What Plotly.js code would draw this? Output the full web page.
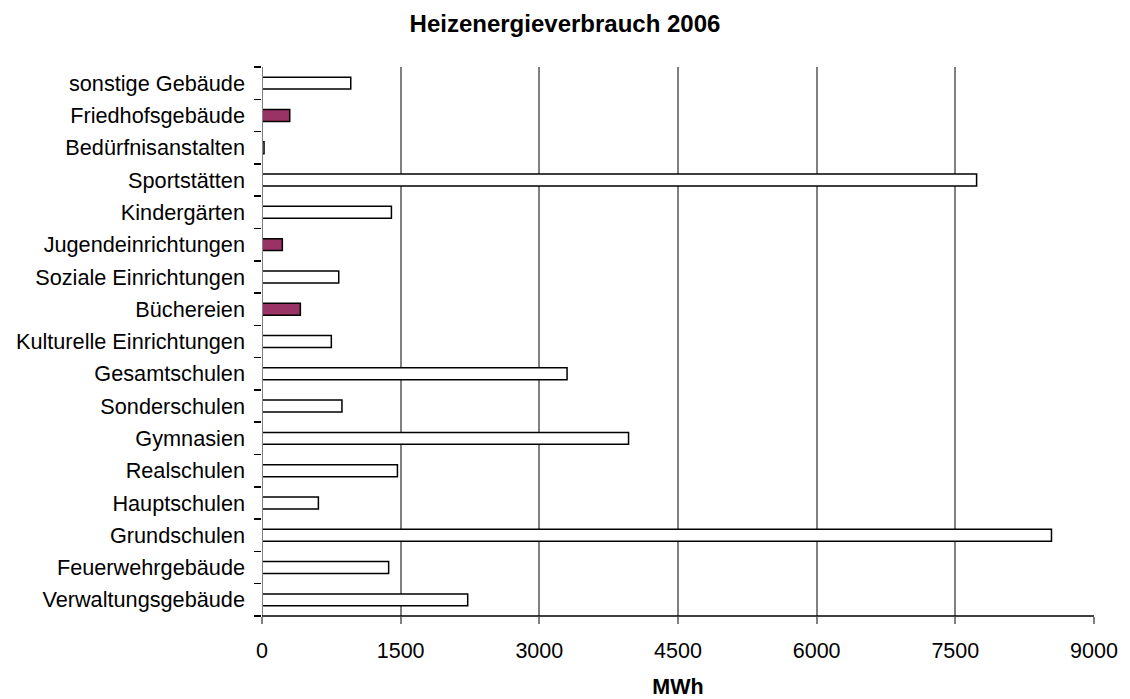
<!DOCTYPE html>
<html><head><meta charset="utf-8">
<script src="https://cdn.plot.ly/plotly-3.0.1.min.js"></script>
<style>html,body{margin:0;padding:0;background:#fff}#chart{width:1130px;height:699px}</style>
</head><body><div id="chart"></div>
<script>
const categories = ["Verwaltungsgebäude","Feuerwehrgebäude","Grundschulen","Hauptschulen","Realschulen","Gymnasien","Sonderschulen","Gesamtschulen","Kulturelle Einrichtungen","Büchereien","Soziale Einrichtungen","Jugendeinrichtungen","Kindergärten","Sportstätten","Bedürfnisanstalten","Friedhofsgebäude","sonstige Gebäude"];
const values = [2225,1370,8540,610,1465,3965,865,3300,750,415,830,220,1400,7730,22,300,960];
const highlighted = ["Büchereien","Jugendeinrichtungen","Friedhofsgebäude"];
const colors = categories.map(c => highlighted.includes(c) ? "#993366" : "#ffffff");
const xTicks = [0,1500,3000,4500,6000,7500,9000];

Plotly.newPlot("chart", [{
  type: "bar", orientation: "h", y: categories, x: values,
  marker: {color: colors, line: {color: "#000000", width: 1.5}},
  hoverinfo: "x+y"
}], {
  width: 1130, height: 699,
  margin: {l: 262, r: 36, t: 67, b: 83},
  paper_bgcolor: "#fff", plot_bgcolor: "#fff",
  font: {family: "Liberation Sans, Arial, sans-serif", size: 21.7, color: "#000"},
  title: {text: "<b>Heizenergieverbrauch 2006</b>", x: 0.5, xanchor: "center", y: 0.9664, yanchor: "middle", font: {size: 24}},
  bargap: 0.63,
  showlegend: false,
  xaxis: {
    range: [0, 9000], tickvals: xTicks, ticktext: xTicks.map(String),
    showgrid: true, gridcolor: "#808080", gridwidth: 2,
    zeroline: false, showline: false,
    ticks: "outside", ticklen: 7, tickcolor: "#808080", tickwidth: 2,
    tickfont: {size: 21.5}, ticklabelstandoff: 8, fixedrange: true,
    automargin: false,
    title: {text: "<b>MWh</b>", font: {size: 21.5}, standoff: 24}
  },
  yaxis: {
    type: "category", showgrid: false, zeroline: false,
    showline: false, automargin: false,
    ticks: "outside", tickson: "boundaries", ticklen: 7, tickcolor: "#000", tickwidth: 1.5,
    tickfont: {size: 21.7}, ticklabelstandoff: 16, fixedrange: true
  },
  shapes: [
    {type: "line", xref: "x", yref: "paper", x0: 0, x1: 0, y0: 0, y1: 1, line: {color: "#808080", width: 2}},
    {type: "line", xref: "paper", yref: "paper", x0: 0, x1: 1, y0: 0, y1: 0, line: {color: "#000", width: 1.5}}
  ]
}, {displayModeBar: false, staticPlot: true});
</script></body></html>
